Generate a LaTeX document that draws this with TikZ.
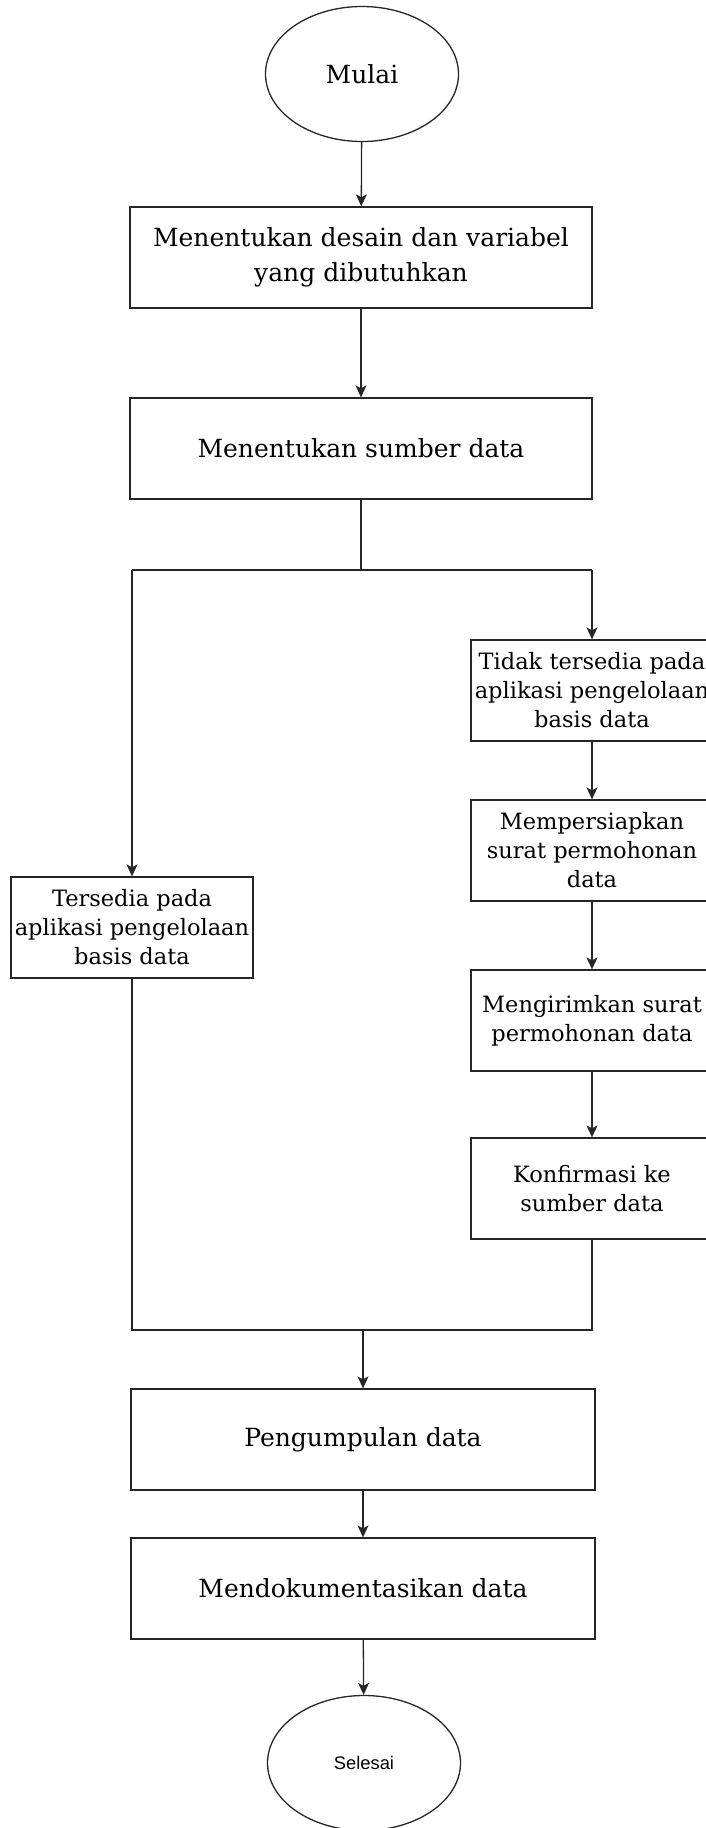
\documentclass[tikz,border=0pt]{standalone}
\usepackage{fontspec}
\setmainfont{DejaVu Serif}
\newfontfamily\endfont{Liberation Sans}
\usetikzlibrary{arrows.meta,shapes.geometric}

\tikzset{
  flowline/.style={line width=1.3pt, draw=black!85},
  flowarrow/.style={flowline, -{Stealth[length=12pt,width=11pt,inset=3pt]}},
  widebox/.style={draw=black!85, line width=1.3pt, rectangle, inner sep=0pt,
    minimum width=462pt, minimum height=101pt, align=center,
    font=\fontsize{25}{35}\selectfont},
  sidebox/.style={draw=black!85, line width=1.3pt, rectangle, inner sep=0pt,
    minimum width=242pt, minimum height=101pt, align=center,
    font=\fontsize{22.5}{29}\selectfont},
  terminal/.style={draw=black!85, line width=1.3pt, ellipse, inner sep=0pt,
    minimum width=193pt, minimum height=135pt}
}

\begin{document}
\begin{tikzpicture}[x=1pt,y=-1pt]
  \useasboundingbox (0,0) rectangle (706,1828);

  % main column
  \node[terminal, font=\fontsize{25}{30}\selectfont] (start) at (362,74) {Mulai};
  \node[widebox] (design) at (361,257.5) {Menentukan desain dan variabel\\yang dibutuhkan};
  \node[widebox] (source) at (361,448.5) {Menentukan sumber data};

  % branch points
  \coordinate (split) at (361,570);
  \coordinate (splitL) at (132,570);
  \coordinate (splitR) at (592,570);

  % left branch
  \node[sidebox] (avail) at (132,927.5) {Tersedia pada\\aplikasi pengelolaan\\basis data};

  % right branch
  \node[sidebox] (notavail) at (592,690.5) {Tidak tersedia pada\\aplikasi pengelolaan\\basis data};
  \node[sidebox] (prepare) at (592,850.5) {Mempersiapkan\\surat permohonan\\data};
  \node[sidebox] (send) at (592,1020.5) {Mengirimkan surat\\permohonan data};
  \node[sidebox] (confirm) at (592,1188.5) {Konfirmasi ke\\sumber data};

  % merge points
  \coordinate (mergeL) at (132,1330);
  \coordinate (mergeR) at (592,1330);
  \coordinate (merge) at (363,1330);

  \node[widebox, minimum width=464pt] (collect) at (363,1439.5) {Pengumpulan data};
  \node[widebox, minimum width=464pt] (document) at (363,1588.5) {Mendokumentasikan data};
  \node[terminal, font=\endfont\fontsize{18.3}{22}\selectfont] (finish) at (364,1763) {Selesai};

  % connectors
  \draw[flowarrow] (start) -- (design);
  \draw[flowarrow] (design) -- (source);
  \draw[flowline] (source) -- (split);
  \draw[flowline] (splitL) -- (splitR);
  \draw[flowarrow] (splitL) -- (avail);
  \draw[flowarrow] (splitR) -- (notavail);
  \draw[flowarrow] (notavail) -- (prepare);
  \draw[flowarrow] (prepare) -- (send);
  \draw[flowarrow] (send) -- (confirm);
  \draw[flowline] (avail) -- (mergeL) -- (mergeR) -- (confirm);
  \draw[flowarrow] (merge) -- (collect);
  \draw[flowarrow] (collect) -- (document);
  \draw[flowarrow] (document) -- (finish);
\end{tikzpicture}
\end{document}
